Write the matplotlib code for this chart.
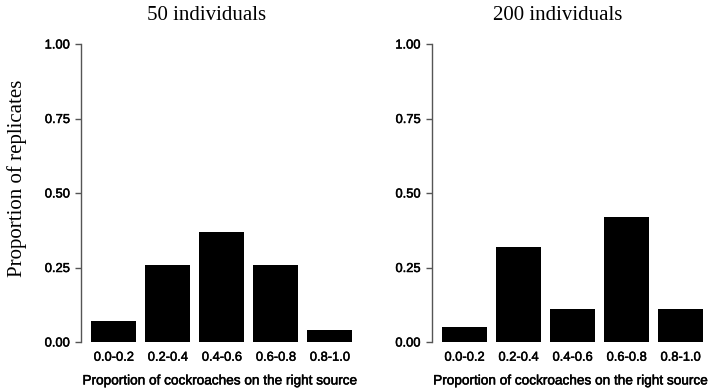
import numpy as np
import matplotlib
matplotlib.use('Agg')
import matplotlib.pyplot as plt
import matplotlib.patheffects as pe

categories = ['0.0-0.2', '0.2-0.4', '0.4-0.6', '0.6-0.8', '0.8-1.0']
vals_50 = [0.07, 0.26, 0.37, 0.26, 0.04]
vals_200 = [0.05, 0.32, 0.11, 0.42, 0.11]
titles = ['50 individuals', '200 individuals']
yticks = [0.0, 0.25, 0.5, 0.75, 1.0]
ytick_labels = ['0.00', '0.25', '0.50', '0.75', '1.00']

W, H = 709, 388
fig = plt.figure(figsize=(W / 100, H / 100), dpi=100)

sans = 'Liberation Sans'
serif = 'Liberation Serif'
thick = [pe.withStroke(linewidth=0.35, foreground='black')]

x = np.arange(len(categories))
bottom = (H - 342) / H
height = (342 - 44) / H
pitch = 54.0
lo, hi = -0.61, 4.55
width_px = (hi - lo) * pitch

for spine_x, vals, title in [(81, vals_50, titles[0]), (431.7, vals_200, titles[1])]:
    ax = fig.add_axes([spine_x / W, bottom, width_px / W, height])
    ax.bar(x, vals, width=45 / 54, color='black', edgecolor='none')
    ax.set_xlim(lo, hi)
    ax.set_ylim(0, 1)
    for s in ['top', 'right', 'bottom']:
        ax.spines[s].set_visible(False)
    ax.spines['left'].set_color('#555555')
    ax.spines['left'].set_linewidth(1.0)
    ax.set_yticks(yticks)
    ax.set_yticklabels(ytick_labels, fontfamily=sans, fontsize=9.3)
    ax.tick_params(axis='y', length=4, width=1.0, color='#555555', pad=4)
    ax.set_xticks(x)
    ax.set_xticklabels(categories, fontfamily=sans, fontsize=9.3)
    ax.tick_params(axis='x', length=0, pad=7)
    ax.set_xlabel('Proportion of cockroaches on the right source',
                  fontfamily=sans, fontsize=9.8, labelpad=7)
    for t in ax.get_xticklabels() + ax.get_yticklabels() + [ax.xaxis.label]:
        t.set_path_effects(thick)
    ax.patch.set_visible(False)
    fig.text((spine_x + 125.5) / W, 1 - 15 / H, title, fontfamily=serif,
             fontsize=15, ha='center', va='center')

fig.text(17 / W, 1 - 178 / H, 'Proportion of replicates', fontfamily=serif,
         fontsize=15, rotation=90, ha='center', va='center')

fig.savefig('out.png', dpi=100)
